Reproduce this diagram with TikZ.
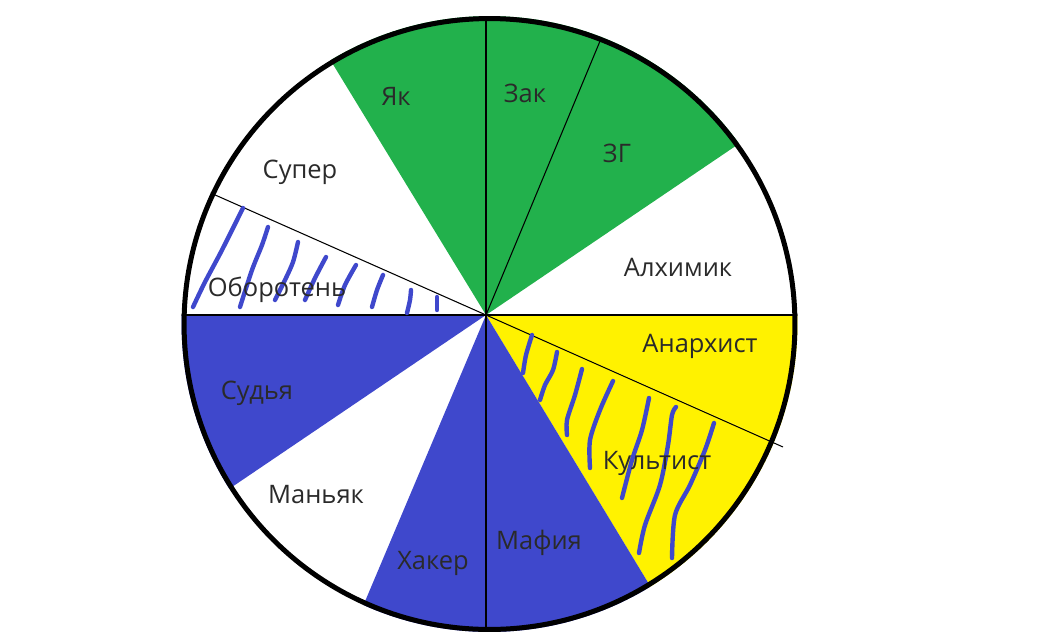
\documentclass[tikz,border=0pt]{standalone}
\usepackage{fontspec}
\setmainfont{Open Sans}
\usepackage{xcolor}
\usetikzlibrary{calc}

\definecolor{grn}{HTML}{22B14C}
\definecolor{blu}{HTML}{3F48CC}
\definecolor{ylw}{HTML}{FFF200}
\definecolor{txt}{HTML}{2A2A2A}

\begin{document}
\begin{tikzpicture}[x=0.02cm, y=-0.02cm]
    \tikzstyle{lbl} = [font=\fontsize{14.5}{17}\selectfont, text=txt, inner sep=0pt]
    \tikzstyle{sep} = [draw=black, line width=0.6pt]
    \tikzstyle{scribble} = [draw=blu, line width=2.5pt, line cap=round, line join=round]
    \useasboundingbox (0,0) rectangle (1057,643);

    \coordinate (v) at (486,315);
    \coordinate (o) at (489.5,324);
    \coordinate (tail) at (783,447);

    % Slices
    \begin{scope}
        \clip (o) circle [radius=6.16cm];
        \foreach \a/\b/\c in {90/121.4/grn, 67.4/90/grn, 34.1/67.4/grn, -23.7/0/ylw,
                              -58.8/-23.7/ylw, -90/-58.8/blu, -112.9/-90/blu, 180/214.1/blu}
            \fill[\c] (v) -- ($(v)+(\a:15cm)$) -- ($(v)+(\b:15cm)$) -- cycle;
        % Separators
        \draw[sep] ($(v)+(90:15cm)$) -- ($(v)+(-90:15cm)$);
        \draw[sep] ($(v)+(0:15cm)$) -- ($(v)+(180:15cm)$);
        \draw[sep] (v) -- ($(v)+(67.4:15cm)$);
        \draw[sep] (v) -- ($(v)+(156.1:15cm)$);
    \end{scope}
    \draw[sep] (v) -- (tail);

    % Hatching
    \draw[scribble] plot[smooth] coordinates {(193,307) (205,282) (222,250) (243,208)};
    \draw[scribble] plot[smooth] coordinates {(240,307) (252,270) (262,245) (268,227)};
    \draw[scribble] plot[smooth] coordinates {(275,300) (285,280) (293,262) (298,242)};
    \draw[scribble] plot[smooth] coordinates {(305,300) (315,278) (326,257)};
    \draw[scribble] plot[smooth] coordinates {(338,305) (345,285) (356,265)};
    \draw[scribble] plot[smooth] coordinates {(372,307) (377,290) (383,275)};
    \draw[scribble] plot[smooth] coordinates {(407,313) (410,300) (411,290)};
    \draw[scribble] (437,310) -- (437,297);

    \draw[scribble] plot[smooth] coordinates {(523,373) (526,355) (532,335)};
    \draw[scribble] plot[smooth] coordinates {(540,400) (545,385) (553,370) (557,352)};
    \draw[scribble] plot[smooth] coordinates {(567,435) (567,420) (575,395) (582,369)};
    \draw[scribble] plot[smooth] coordinates {(590,468) (590,440) (600,410) (613,381)};
    \draw[scribble] plot[smooth] coordinates {(622,498) (632,460) (642,430) (649,398)};
    \draw[scribble] plot[smooth] coordinates {(639,553) (645,525) (660,485) (668,445) (672,415) (676,407)};
    \draw[scribble] plot[smooth] coordinates {(672,558) (675,515) (690,485) (705,450) (714,423)};

    % Rim
    \draw[line width=0.1cm] (o) circle [radius=6.11cm];

    % Labels
    \node[lbl] (yak) at (396,96) {Як};
    \node[lbl] (zak) at (525,93) {Зак};
    \node[lbl] (zg) at (617,153) {ЗГ};
    \node[lbl] (super) at (300,172) {Супер};
    \node[lbl] (alch) at (678,267) {Алхимик};
    \node[lbl] (were) at (277,290) {Оборотень};
    \node[lbl] (anar) at (700,346) {Анархист};
    \node[lbl] (judge) at (257,393) {Судья};
    \node[lbl] (cult) at (657,463) {Культист};
    \node[lbl] (mani) at (316,495) {Маньяк};
    \node[lbl] (mafia) at (539,543) {Мафия};
    \node[lbl] (hack) at (433,563) {Хакер};
\end{tikzpicture}
\end{document}
